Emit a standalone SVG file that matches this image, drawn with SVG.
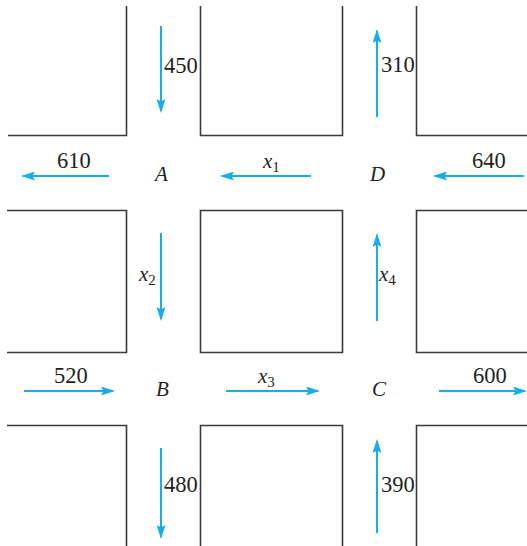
<svg xmlns="http://www.w3.org/2000/svg" width="527" height="546" viewBox="0 0 527 546">
<style>
.blk{fill:none;stroke:#3a3a3a;stroke-width:1.6}
.arr{stroke:#16aee8;stroke-width:2;fill:none;marker-end:url(#ah)}
.num{font-family:"Liberation Serif",serif;font-size:22.5px;fill:#231f20}
.lbl{font-family:"Liberation Serif",serif;font-size:21px;font-style:italic;fill:#231f20}
.var{font-family:"Liberation Serif",serif;font-size:21px;font-style:italic;fill:#231f20}
.sub{font-size:15px;font-style:normal}
</style>
<defs>
<marker id="ah" viewBox="0 0 14 9" refX="12" refY="4.5" markerWidth="14" markerHeight="9" markerUnits="userSpaceOnUse" orient="auto">
<path d="M0,0 L14,4.5 L0,9 L2.5,4.5 Z" fill="#16aee8"/>
</marker>
</defs>
<g id="blocks">
<path class="blk" d="M126.5,6 V135.5 H8"/>
<path class="blk" d="M200.5,6 V135.5 H342.5 V6"/>
<path class="blk" d="M416.5,6 V135.5 H527"/>
<path class="blk" d="M7,210.5 H126.5 V352.5 H7"/>
<path class="blk" d="M200.5,210.5 H342.5 V352.5 H200.5 Z"/>
<path class="blk" d="M527,210.5 H416.5 V352.5 H527"/>
<path class="blk" d="M7,425.5 H126.5 V546"/>
<path class="blk" d="M200.5,546 V425.5 H342.5 V546"/>
<path class="blk" d="M527,425.5 H416.5 V546"/>
</g>
<g id="node-A"><text class="lbl" x="155" y="181">A</text></g>
<g id="node-D"><text class="lbl" x="370" y="181">D</text></g>
<g id="node-B"><text class="lbl" x="156" y="396">B</text></g>
<g id="node-C"><text class="lbl" x="372" y="396">C</text></g>
<g id="connectors">
<line class="arr" x1="161" y1="26" x2="161" y2="111"/>
<text class="num" x="164" y="73">450</text>
<line class="arr" x1="109" y1="176" x2="23" y2="176"/>
<text class="num" x="57" y="168">610</text>
<line class="arr" x1="377" y1="117" x2="377" y2="31"/>
<text class="num" x="381" y="72">310</text>
<line class="arr" x1="524" y1="176" x2="435" y2="176"/>
<text class="num" x="472" y="168">640</text>
<line class="arr" x1="311" y1="176" x2="222" y2="176"/>
<text class="var" x="263" y="168">x<tspan class="sub" dy="4">1</tspan></text>
<line class="arr" x1="161" y1="233" x2="161" y2="319"/>
<text class="var" x="139" y="281">x<tspan class="sub" dy="4">2</tspan></text>
<line class="arr" x1="377" y1="321" x2="377" y2="235"/>
<text class="var" x="379" y="281">x<tspan class="sub" dy="4">4</tspan></text>
<line class="arr" x1="24" y1="391" x2="113" y2="391"/>
<text class="num" x="54" y="383">520</text>
<line class="arr" x1="226" y1="391" x2="318" y2="391"/>
<text class="var" x="258" y="383">x<tspan class="sub" dy="4">3</tspan></text>
<line class="arr" x1="439" y1="391" x2="525" y2="391"/>
<text class="num" x="473" y="383">600</text>
<line class="arr" x1="161" y1="448" x2="161" y2="537"/>
<text class="num" x="164" y="492">480</text>
<line class="arr" x1="377" y1="533" x2="377" y2="441"/>
<text class="num" x="381" y="492">390</text>
</g>
</svg>
